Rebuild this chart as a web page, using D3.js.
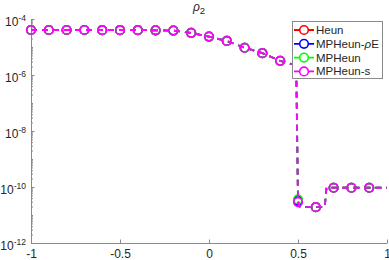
<!DOCTYPE html>
<html>
<head>
<meta charset="utf-8">
<script src="https://cdn.jsdelivr.net/npm/d3@7"></script>
<style>
body { margin: 0; background: #fff; }
svg { display: block; font-family: "Liberation Sans", Arial, sans-serif; }
</style>
</head>
<body>
<script>
var width = 389, height = 260;

// x positions of the points (the markers sit on every tenth)
var xs = [-1, -0.9, -0.8, -0.7, -0.6, -0.5, -0.4, -0.3, -0.2, -0.1, 0, 0.1, 0.2, 0.3, 0.4,
          0.49, 0.5, 0.51, 0.6, 0.65, 0.66, 0.7, 0.8, 0.9, 1];
var markerXs = [-1, -0.9, -0.8, -0.7, -0.6, -0.5, -0.4, -0.3, -0.2, -0.1, 0, 0.1, 0.2, 0.3, 0.4,
                0.5, 0.6, 0.7, 0.8, 0.9];

var heun = [4.05e-5, 4.05e-5, 4.05e-5, 4.05e-5, 4.0e-5, 4.0e-5, 4.0e-5, 3.95e-5, 3.85e-5, 3.2e-5,
            2.35e-5, 1.65e-5, 9.4e-6, 6.0e-6, 3.2e-6, 2.2e-6, 3.2e-11, 1.9e-11, 1.9e-11, 1.9e-11,
            9.4e-11, 9.4e-11, 9.4e-11, 9.4e-11, 9.4e-11];
var mpheunRhoE = [4.05e-5, 4.05e-5, 4.05e-5, 4.05e-5, 4.0e-5, 4.0e-5, 4.0e-5, 3.95e-5, 3.85e-5, 3.2e-5,
            2.35e-5, 1.65e-5, 9.4e-6, 6.0e-6, 3.2e-6, 2.2e-6, 3.2e-11, 1.9e-11, 1.9e-11, 1.9e-11,
            9.4e-11, 9.4e-11, 9.4e-11, 9.4e-11, 9.4e-11];
var mpheun = [4.05e-5, 4.05e-5, 4.05e-5, 4.05e-5, 4.0e-5, 4.0e-5, 4.0e-5, 3.95e-5, 3.85e-5, 3.2e-5,
            2.35e-5, 1.65e-5, 9.4e-6, 6.0e-6, 3.2e-6, 2.2e-6, 3.6e-11, 1.9e-11, 1.9e-11, 1.9e-11,
            9.4e-11, 9.4e-11, 9.4e-11, 9.4e-11, 9.4e-11];
var mpheunS = [4.05e-5, 4.05e-5, 4.05e-5, 4.05e-5, 4.0e-5, 4.0e-5, 4.0e-5, 3.95e-5, 3.85e-5, 3.2e-5,
            2.35e-5, 1.65e-5, 9.4e-6, 6.0e-6, 3.2e-6, 2.2e-6, 2.9e-11, 1.9e-11, 1.9e-11, 1.9e-11,
            9.4e-11, 9.4e-11, 9.4e-11, 9.4e-11, 9.4e-11];

var seriesNames = ["Heun", "MPHeun-\u03c1E", "MPHeun", "MPHeun-s"];
var seriesColors = ["#ff0000", "#0000ff", "#00ff00", "#ff00ff"];
var xTicks = [-1, -0.5, 0, 0.5, 1];
var yTicks = [1e-12, 1e-10, 1e-8, 1e-6, 1e-4];
var yExponents = ["-12", "-10", "-8", "-6", "-4"];

var allSeries = [heun, mpheunRhoE, mpheun, mpheunS].map(function(vals, i) {
  return {
    name: seriesNames[i],
    color: seriesColors[i],
    points: xs.map(function(xv, j) { return {x: xv, y: vals[j]}; })
  };
});

var svg = d3.select("body").append("svg")
    .attr("width", width)
    .attr("height", height);

var x = d3.scaleLinear().domain([-1, 1]).range([31, 387]);
var y = d3.scaleLog().domain([1e-12, 1e-4]).range([243, 19]);

var axisColor = "#8a8a8a", textColor = "#262626";

// y axis: minor ticks first, then labelled decades
var minor = y.ticks().filter(function(t) { return yTicks.indexOf(t) < 0; });
svg.append("g")
    .attr("transform", "translate(31,0)")
    .attr("color", axisColor)
    .call(d3.axisLeft(y).tickValues(minor).tickSize(-2).tickSizeOuter(0).tickFormat(""));

var yAx = svg.append("g")
    .attr("transform", "translate(31,0)")
    .attr("color", axisColor)
    .call(d3.axisLeft(y).tickValues(yTicks).tickSize(-3.5).tickSizeOuter(0).tickPadding(5));
yAx.select(".domain").remove();
yAx.selectAll("text").each(function(d, i) {
  var t = d3.select(this).text(null)
      .attr("fill", textColor).attr("font-size", 12).attr("dy", "0.5em");
  t.append("tspan").text("10");
  t.append("tspan").attr("dy", "-0.55em").attr("font-size", 8.5).text(yExponents[i]);
});

// x axis
var xAx = svg.append("g")
    .attr("transform", "translate(0,243)")
    .attr("color", axisColor)
    .call(d3.axisBottom(x).tickValues(xTicks).tickSize(-3.5).tickSizeOuter(0).tickPadding(6)
      .tickFormat(function(d) { return String(d); }));
xAx.selectAll("text").attr("fill", textColor).attr("font-size", 12);

// title
var title = svg.append("text")
    .attr("x", 199).attr("y", 11)
    .attr("text-anchor", "middle")
    .attr("fill", textColor).attr("font-size", 12);
title.append("tspan").attr("font-style", "italic").text("\u03c1");
title.append("tspan").attr("dy", 2.5).attr("font-size", 9.5).text("2");

// series
var line = d3.line()
    .x(function(d) { return x(d.x); })
    .y(function(d) { return y(d.y); });

allSeries.forEach(function(s) {
  svg.append("path")
      .datum(s.points)
      .attr("d", line)
      .attr("fill", "none")
      .attr("stroke", s.color)
      .attr("stroke-width", 1.8)
      .attr("stroke-dasharray", "6,5");
  svg.selectAll(null)
      .data(s.points.filter(function(p) { return markerXs.indexOf(p.x) >= 0; }))
    .enter().append("circle")
      .attr("cx", function(d) { return x(d.x); })
      .attr("cy", function(d) { return y(d.y); })
      .attr("r", 4.3)
      .attr("fill", "none")
      .attr("stroke", s.color)
      .attr("stroke-width", 1.6);
});

// legend
var legend = svg.append("g");
legend.append("rect")
    .attr("x", 292.5).attr("y", 21.5)
    .attr("width", 90).attr("height", 57)
    .attr("fill", "#fff")
    .attr("stroke", axisColor)
    .attr("stroke-width", 1);

allSeries.forEach(function(s, i) {
  var ly = 30 + i * 13.8;
  legend.append("line")
      .attr("x1", 294).attr("x2", 314)
      .attr("y1", ly).attr("y2", ly)
      .attr("stroke", s.color)
      .attr("stroke-width", 1.8)
      .attr("stroke-dasharray", "6,8");
  legend.append("circle")
      .attr("cx", 304).attr("cy", ly).attr("r", 4.3)
      .attr("fill", "none")
      .attr("stroke", s.color)
      .attr("stroke-width", 1.6);
  var t = legend.append("text")
      .attr("x", 316).attr("y", ly)
      .attr("dy", "0.35em")
      .attr("fill", textColor)
      .attr("font-size", 11.5);
  if (s.name.indexOf("\u03c1") >= 0) {
    t.append("tspan").text("MPHeun-");
    t.append("tspan").attr("font-style", "italic").text("\u03c1");
    t.append("tspan").text("E");
  } else {
    t.text(s.name);
  }
});
</script>
</body>
</html>
